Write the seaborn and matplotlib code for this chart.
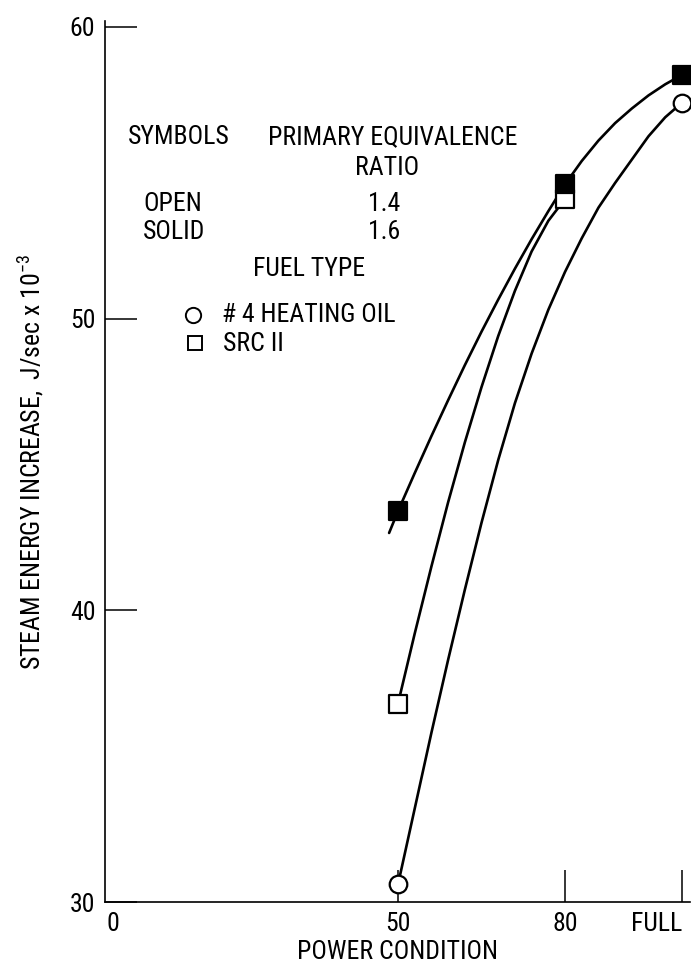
import numpy as np
import seaborn as sns
import matplotlib.pyplot as plt
from matplotlib import font_manager as fm

# measured points (FULL power plotted at x = 101)
oil_14_x = [50, 101]
oil_14_y = [30.6, 57.4]
src_14_x = [50, 80]
src_14_y = [36.8, 54.1]
src_16_x = [50, 80, 101]
src_16_y = [43.4, 54.6, 58.35]

# faired curves
curve_oil_14_x = [50, 53, 56, 59, 62, 65, 68, 71, 74, 77, 80, 83, 86, 89, 92, 95, 98, 101]
curve_oil_14_y = [30.6, 33.2, 35.8, 38.3, 40.7, 43.0, 45.15, 47.1, 48.8, 50.3, 51.6,
                  52.75, 53.8, 54.65, 55.45, 56.25, 56.9, 57.4]
curve_src_14_x = [50, 53, 56, 59, 62, 65, 68, 71, 74, 77, 80]
curve_src_14_y = [36.8, 39.2, 41.5, 43.7, 45.75, 47.65, 49.4, 50.95, 52.3, 53.35, 54.1]
curve_src_16_x = [48.4, 50, 53, 56, 59, 62, 65, 68, 71, 74, 77, 80, 83, 86, 89, 92, 95, 98, 101]
curve_src_16_y = [42.65, 43.4, 44.7, 45.97, 47.2, 48.4, 49.55, 50.65, 51.71, 52.72, 53.68,
                  54.6, 55.4, 56.1, 56.7, 57.2, 57.65, 58.03, 58.35]

x_ticks = [0, 50, 80, 101]
x_tick_labels = ['0', '50', '80', 'FULL']
y_ticks = [30, 40, 50, 60]

sns.set_style('ticks')

# pick a narrow face if one is installed
fl = fm.fontManager.ttflist
names = {f.name for f in fl}
FS = 18
if 'Liberation Sans Narrow' in names:
    plt.rcParams['font.family'] = ['Liberation Sans Narrow', 'DejaVu Sans']
elif 'Roboto Condensed' in names:
    plt.rcParams['font.family'] = ['Roboto Condensed', 'DejaVu Sans']
    FS = 18.5
elif any(f.name == 'DejaVu Sans' and 'condensed' in str(f.stretch) for f in fl):
    plt.rcParams['font.family'] = ['DejaVu Sans']
    plt.rcParams['font.stretch'] = 'condensed'
    FS = 16
else:
    plt.rcParams['font.family'] = ['DejaVu Sans']
    FS = 15
plt.rcParams['mathtext.default'] = 'regular'
for k in ['text.color', 'axes.labelcolor', 'xtick.color', 'ytick.color']:
    plt.rcParams[k] = 'black'

fig = plt.figure(figsize=(6.91, 9.64), dpi=100)
ax = fig.add_axes([105/691, 1 - 902/964, 585/691, 881/964])

# curves
for cx, cy in [(curve_oil_14_x, curve_oil_14_y),
               (curve_src_14_x, curve_src_14_y),
               (curve_src_16_x, curve_src_16_y)]:
    sns.lineplot(x=cx, y=cy, sort=False, estimator=None, color='black',
                 linewidth=1.9, zorder=2, ax=ax)

# symbols
sns.scatterplot(x=oil_14_x, y=oil_14_y, marker='o', s=160, facecolor='white',
                edgecolor='black', linewidth=1.6, zorder=2.2, ax=ax)
sns.scatterplot(x=src_14_x, y=src_14_y, marker='s', s=150, facecolor='white',
                edgecolor='black', linewidth=1.6, zorder=2.2, ax=ax)
sns.scatterplot(x=src_16_x, y=src_16_y, marker='s', s=150, facecolor='black',
                edgecolor='black', linewidth=1.6, zorder=2.2, ax=ax)

ax.set_xlim(-2.63, 102.45)
ax.set_ylim(30, 60.2)
ax.set_xticks(x_ticks)
ax.set_xticklabels(x_tick_labels)
ax.get_xticklabels()[0].set_ha('right')
ax.get_xticklabels()[-1].set_ha('right')
ax.xaxis.get_major_ticks()[0].tick1line.set_visible(False)
ax.set_yticks(y_ticks)
ax.tick_params(direction='in', length=23, width=1.1, labelsize=FS, pad=7)
sns.despine(ax=ax)
for s in ['left', 'bottom']:
    ax.spines[s].set_linewidth(1.2)
    ax.spines[s].set_color('black')

ax.set_xlabel('POWER CONDITION', fontsize=FS, labelpad=3)
ax.set_ylabel('STEAM ENERGY INCREASE,  J/sec x 10$^{-3}$', fontsize=FS)
ax.yaxis.set_label_coords(-0.1, 0.5)

# key
def fpos(x, y):
    return x / 691, 1 - y / 964

key = [
    ('SYMBOLS', 128, 137),
    ('PRIMARY EQUIVALENCE', 268, 137),
    ('RATIO', 355, 168),
    ('OPEN', 143, 204),
    ('1.4', 368, 204),
    ('SOLID', 143, 232),
    ('1.6', 368, 232),
    ('FUEL TYPE', 253, 269),
    ('# 4 HEATING OIL', 222, 315),
    ('SRC II', 223, 344),
]
for txt, px, py in key:
    fx, fy = fpos(px, py)
    fig.text(fx, fy, txt, fontsize=FS, ha='left', va='center')

ax.plot([0.150], [0.666], marker='o', ms=11, mfc='white', mec='black', mew=1.4,
        transform=ax.transAxes, clip_on=False)
ax.plot([0.154], [0.6345], marker='s', ms=10.5, mfc='white', mec='black', mew=1.4,
        transform=ax.transAxes, clip_on=False)

fig.savefig('out.png', dpi=100)
